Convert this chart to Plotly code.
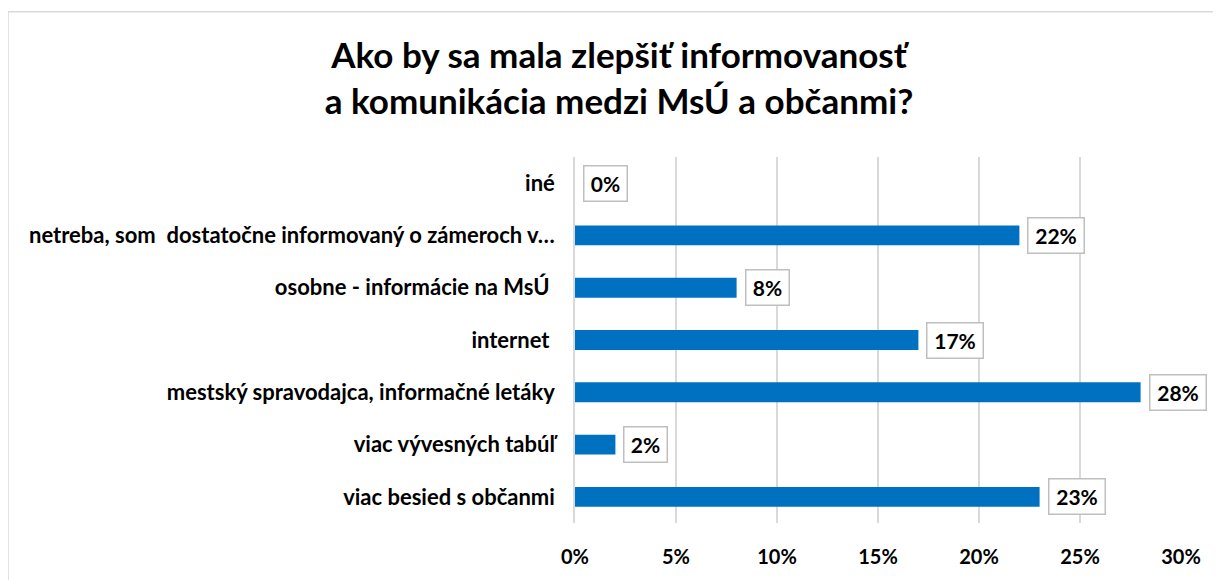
"""Horizontal bar chart: Ako by sa mala zlepšiť informovanosť a komunikácia medzi MsÚ a občanmi?"""

import plotly.graph_objects as go

CATEGORIES = [
    "viac besied s občanmi",
    "viac vývesných tabúľ",
    "mestský spravodajca, informačné letáky",
    "internet ",
    "osobne - informácie na MsÚ ",
    "netreba, som  dostatočne informovaný o zámeroch v…",
    "iné",
]
VALUES = [23, 2, 28, 17, 8, 22, 0]
TICK_VALUES = [0, 5, 10, 15, 20, 25, 30]
TICK_LABELS = ["0%", "5%", "10%", "15%", "20%", "25%", "30%"]

TITLE = "Ako by sa mala zlepšiť informovanosť<br>a komunikácia medzi MsÚ a občanmi?"
FONT = "Lato, Carlito, Calibri, sans-serif"
BAR_COLOR = "#0070C0"
GRID_COLOR = "#D9D9D9"

# the page body adds an 8px margin, so the figure is laid out 8px smaller
W, H = 1213, 572
ML, MR, MT, MB = 567, 40, 149, 55

fig = go.Figure(go.Bar(
    x=VALUES,
    y=CATEGORIES,
    orientation="h",
    marker=dict(color=BAR_COLOR, line=dict(width=0)),
    hoverinfo="skip",
))

# boxed data labels
for cat, val in zip(CATEGORIES, VALUES):
    label = f"{val}%"
    fig.add_annotation(
        x=val, y=cat, xref="x", yref="y",
        text=f"<b>{label}</b>",
        showarrow=False,
        xanchor="left", xshift=8,
        font=dict(family=FONT, size=21, color="#000"),
        bgcolor="white",
        bordercolor="#BFBFBF", borderwidth=1.5, borderpad=2,
        width=38 if len(label) == 2 else 51, height=30,
    )

# chart frame (right and bottom edges fall outside the picture)
pw, ph = W - ML - MR, H - MT - MB
fig.add_shape(
    type="rect", xref="paper", yref="paper",
    x0=-ML / pw, x1=1.2, y0=-0.3, y1=(ph + MT - 3) / ph,
    line=dict(color="#D9D9D9", width=1.5), layer="below",
)

fig.update_layout(
    width=W,
    height=H,
    template="plotly_white",
    paper_bgcolor="white",
    plot_bgcolor="white",
    showlegend=False,
    bargap=0.62,
    margin=dict(l=ML, r=MR, t=MT, b=MB),
    title=dict(
        text=f"<b>{TITLE}</b>",
        x=611 / W, xanchor="center",
        y=1 - 60 / H, yanchor="middle",
        font=dict(family=FONT, size=35, color="#000"),
    ),
    font=dict(family=FONT, color="#000"),
)
fig.update_xaxes(
    range=[0, 30],
    tickvals=TICK_VALUES,
    ticktext=[f"<b>{t}</b>" for t in TICK_LABELS],
    tickfont=dict(family=FONT, size=20, color="#000"),
    showgrid=True, gridcolor=GRID_COLOR, gridwidth=1.5,
    zeroline=False, showline=False, ticks="",
    ticklabelstandoff=20,
)
fig.update_yaxes(
    categoryorder="array", categoryarray=CATEGORIES,
    tickvals=CATEGORIES,
    ticktext=[f"<b>{c}</b>" for c in CATEGORIES],
    tickfont=dict(family=FONT, size=22, color="#000"),
    showgrid=False, zeroline=False,
    showline=True, linecolor=GRID_COLOR, linewidth=1.5,
    ticks="", ticklabelstandoff=14,
)

fig.write_html("out.html")
